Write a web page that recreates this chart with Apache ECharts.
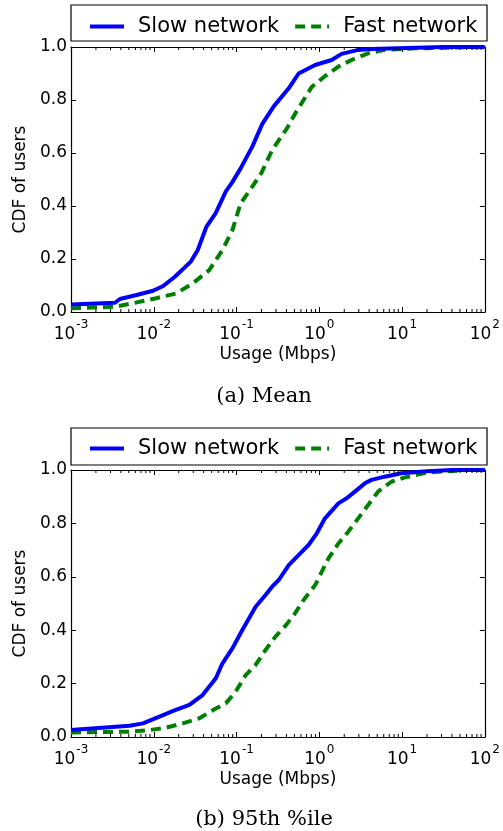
<!DOCTYPE html>
<html>
<head>
<meta charset="utf-8">
<script src="https://cdn.jsdelivr.net/npm/echarts@6/dist/echarts.min.js"></script>
<style>
  html, body { margin: 0; padding: 0; background: #fff; }
  #main { width: 503px; height: 831px; }
</style>
</head>
<body>
<div id="main"></div>
<script>
// 数据：横轴 Usage (Mbps)，纵轴 CDF
var seriesNames = ['Slow network', 'Fast network'];
var yTicks = [0, 0.2, 0.4, 0.6, 0.8, 1.0];
var xDecades = [0.001, 0.01, 0.1, 1, 10, 100];
var captions = ['(a) Mean', '(b) 95th %ile'];

// (a) Mean
var meanSlow = [
    [0.001, 0.028], [0.0034, 0.035], [0.0039, 0.049], [0.0062, 0.064], [0.0098, 0.08],
    [0.013, 0.098], [0.018, 0.133], [0.028, 0.19], [0.034, 0.234], [0.043, 0.32],
    [0.056, 0.373], [0.074, 0.454], [0.089, 0.49], [0.112, 0.542], [0.155, 0.624],
    [0.204, 0.709], [0.28, 0.775], [0.427, 0.844], [0.562, 0.90], [0.89, 0.932],
    [1.41, 0.951], [1.86, 0.974], [2.95, 0.989], [4.27, 0.992], [8.9, 0.995],
    [31.6, 1.0], [100, 1.0]
];
var meanFast = [
    [0.001, 0.014], [0.0034, 0.02], [0.0056, 0.033], [0.0107, 0.052], [0.0186, 0.07],
    [0.0295, 0.108], [0.0468, 0.158], [0.0676, 0.234], [0.0891, 0.309], [0.112, 0.41],
    [0.155, 0.473], [0.2, 0.525], [0.269, 0.611], [0.316, 0.643], [0.407, 0.693],
    [0.513, 0.75], [0.646, 0.80], [0.813, 0.85], [1.17, 0.89], [1.7, 0.926],
    [2.45, 0.951], [3.89, 0.976], [6.17, 0.989], [14.1, 0.995], [100, 1.0]
];

// (b) 95th %ile
var p95Slow = [
    [0.001, 0.026], [0.0051, 0.042], [0.0074, 0.051], [0.0117, 0.076], [0.0178, 0.10],
    [0.0269, 0.12], [0.0389, 0.157], [0.0562, 0.22], [0.0676, 0.276], [0.0891, 0.332],
    [0.117, 0.40], [0.17, 0.488], [0.224, 0.532], [0.269, 0.563], [0.324, 0.588],
    [0.427, 0.644], [0.589, 0.688], [0.741, 0.719], [0.933, 0.763], [1.17, 0.819],
    [1.7, 0.875], [2.14, 0.894], [2.69, 0.919], [3.55, 0.95], [4.27, 0.963],
    [6.17, 0.975], [9.77, 0.988], [20, 0.995], [40, 1.0], [100, 1.0]
];
var p95Fast = [
    [0.001, 0.017], [0.0051, 0.02], [0.0089, 0.026], [0.0141, 0.035], [0.0224, 0.051],
    [0.0355, 0.07], [0.0562, 0.107], [0.0741, 0.126], [0.0977, 0.17], [0.129, 0.232],
    [0.17, 0.27], [0.224, 0.326], [0.295, 0.376], [0.398, 0.42], [0.501, 0.46],
    [0.646, 0.513], [0.891, 0.569], [1.29, 0.669], [1.7, 0.725], [2.24, 0.769],
    [2.95, 0.819], [3.89, 0.869], [5.13, 0.919], [7.41, 0.956], [11.7, 0.975],
    [20.4, 0.991], [63, 1.0], [100, 1.0]
];

var panels = [
    { slow: meanSlow, fast: meanFast, top: 47, height: 265, legendTop: 11, boxTop: 5, boxH: 36, capY: 397 },
    { slow: p95Slow, fast: p95Fast, top: 470, height: 267, legendTop: 433, boxTop: 428, boxH: 37, capY: 820 }
];

// 对数轴次刻度 2..9 x 10^k
var minorTicks = [];
for (var k = 0; k < xDecades.length - 1; k++) {
    for (var m = 2; m <= 9; m++) {
        minorTicks.push([xDecades[k] * m]);
    }
}

var FONT = 'DejaVu Sans';
var LEFT = 71, WIDTH = 416;

var option = {
    animation: false,
    backgroundColor: '#fff',
    grid: [], xAxis: [], yAxis: [], series: [], legend: [], graphic: []
};

function expLabel(v) {
    var e = Math.round(Math.log(v) / Math.LN10);
    return '{b|10}{s|' + e + '}';
}

panels.forEach(function (p, i) {
    option.grid.push({ left: LEFT, top: p.top, width: WIDTH, height: p.height, show: false });

    var xBase = {
        type: 'log', logBase: 10, min: 0.001, max: 100, gridIndex: i,
        axisLine: { show: true, onZero: false, lineStyle: { color: '#000', width: 1.2 } },
        axisTick: { show: true, inside: true, length: 5, lineStyle: { color: '#000' } },
        splitLine: { show: false }
    };
    // 下方主轴
    option.xAxis.push(Object.assign({}, xBase, {
        position: 'bottom',
        name: 'Usage (Mbps)', nameLocation: 'middle', nameGap: 34,
        nameTextStyle: { fontFamily: FONT, fontSize: 17, color: '#000' },
        axisLabel: {
            show: true, margin: 7, formatter: expLabel,
            rich: {
                b: { fontFamily: FONT, fontSize: 17, color: '#000', lineHeight: 24, verticalAlign: 'bottom' },
                s: { fontFamily: FONT, fontSize: 12, color: '#000', lineHeight: 24, verticalAlign: 'top', padding: [0, 0, 0, 1] }
            }
        }
    }));
    // 上方边框
    option.xAxis.push(Object.assign({}, xBase, { position: 'top', axisLabel: { show: false } }));

    var yBase = {
        type: 'value', min: 0, max: 1, interval: 0.2, gridIndex: i,
        axisLine: { show: true, onZero: false, lineStyle: { color: '#000', width: 1.2 } },
        axisTick: { show: true, inside: true, length: 5, lineStyle: { color: '#000' } },
        splitLine: { show: false }
    };
    option.yAxis.push(Object.assign({}, yBase, {
        position: 'left',
        name: 'CDF of users', nameLocation: 'middle', nameGap: 40,
        nameTextStyle: { fontFamily: FONT, fontSize: 17, color: '#000' },
        axisLabel: {
            show: true, margin: 4, fontFamily: FONT, fontSize: 17, color: '#000',
            formatter: function (v) { return v.toFixed(1); }
        }
    }));
    option.yAxis.push(Object.assign({}, yBase, { position: 'right', axisLabel: { show: false } }));

    var xi = i * 2, yi = i * 2;
    option.series.push({
        name: seriesNames[0], type: 'line', xAxisIndex: xi, yAxisIndex: yi,
        data: p.slow, showSymbol: false, symbol: 'none', smooth: false,
        lineStyle: { color: '#0000ff', width: 4 }, itemStyle: { color: '#0000ff' }, z: 3
    });
    option.series.push({
        name: seriesNames[1], type: 'line', xAxisIndex: xi, yAxisIndex: yi,
        data: p.fast, showSymbol: false, symbol: 'none', smooth: false,
        lineStyle: { color: '#008000', width: 4, type: [10, 6] }, itemStyle: { color: '#008000' }, z: 2
    });
    // 次刻度（上下）
    option.series.push({
        type: 'custom', xAxisIndex: xi, yAxisIndex: yi, data: minorTicks, silent: true, clip: false, z: 5,
        renderItem: function (params, api) {
            var b = api.coord([api.value(0), 0]);
            var t = api.coord([api.value(0), 1]);
            var st = { stroke: '#000', lineWidth: 1 };
            return {
                type: 'group', children: [
                    { type: 'line', shape: { x1: b[0], y1: b[1], x2: b[0], y2: b[1] - 3 }, style: st },
                    { type: 'line', shape: { x1: t[0], y1: t[1], x2: t[0], y2: t[1] + 3 }, style: st }
                ]
            };
        }
    });

    option.legend.push({
        data: seriesNames, left: 83, top: p.legendTop, orient: 'horizontal',
        itemWidth: 34, itemHeight: 14, itemGap: 14, selectedMode: false,
        itemStyle: { opacity: 0 },
        lineStyle: { width: 4 },
        textStyle: { fontFamily: FONT, fontSize: 21, color: '#000', padding: [0, 0, 0, 9] }
    });

    // 图例外框
    option.graphic.push({
        type: 'rect', shape: { x: LEFT, y: p.boxTop, width: WIDTH, height: p.boxH },
        style: { fill: 'none', stroke: '#000', lineWidth: 1.2 }
    });
    // 子图标题
    option.graphic.push({
        type: 'text', x: 264, y: p.capY,
        style: { text: captions[i], fill: '#000', font: '21px "DejaVu Serif"', textAlign: 'center', textVerticalAlign: 'middle' }
    });
});

var myChart = echarts.init(document.getElementById('main'));
myChart.setOption(option);
</script>
</body>
</html>
